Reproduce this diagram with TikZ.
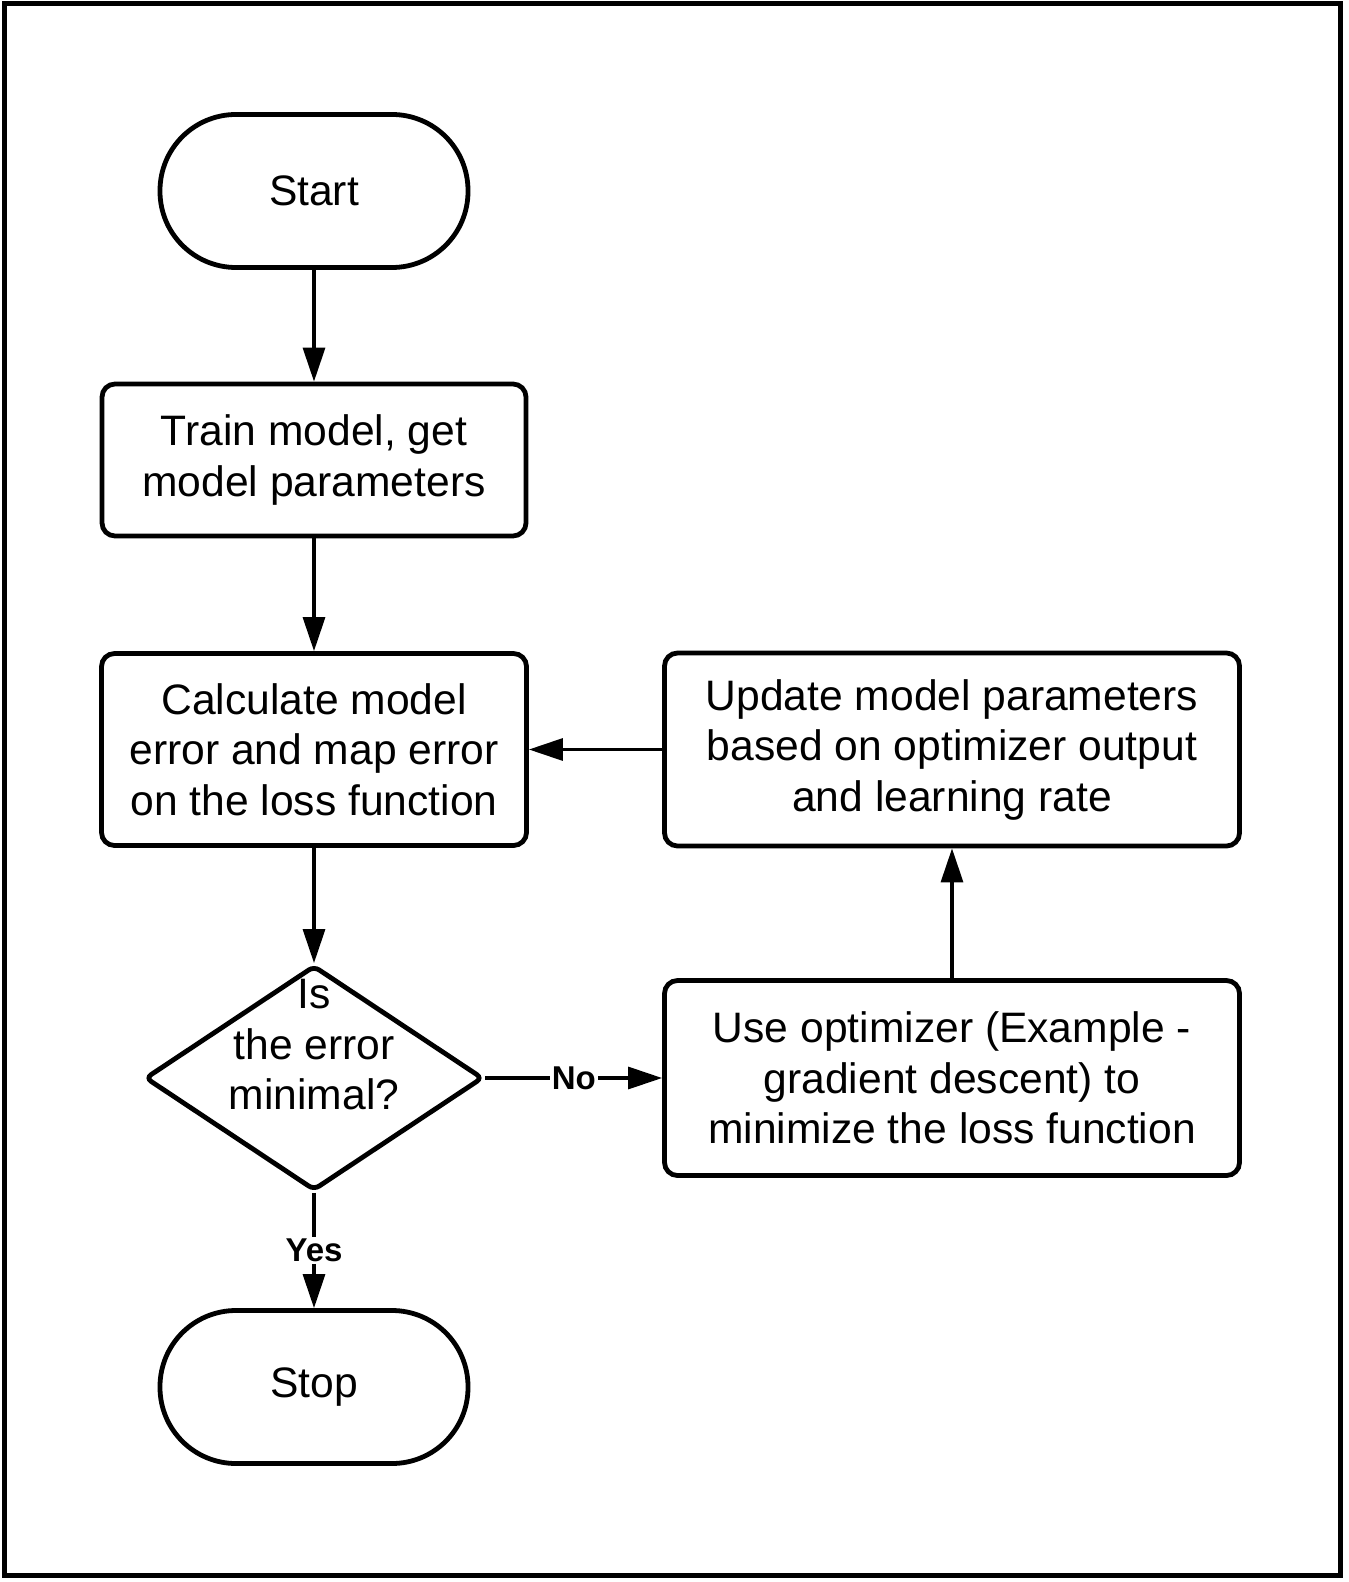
\documentclass[tikz,border=0pt]{standalone}
\usepackage{fontspec}
\setmainfont{Liberation Sans}
\usetikzlibrary{shapes.geometric,arrows.meta}
\begin{document}
\begin{tikzpicture}[x=0.5pt,y=-0.5pt,
  txt/.style={font=\fontsize{21.3pt}{25.25pt}\selectfont, align=center},
  term/.style={txt, draw, line width=2.4pt, rectangle, rounded corners=38pt, minimum width=154pt, minimum height=76.5pt, inner sep=0pt},
  proc/.style={txt, draw, line width=2.4pt, rectangle, rounded corners=6.5pt, inner sep=0pt},
  dec/.style={draw, line width=2.4pt, diamond, rounded corners=3pt, minimum width=169pt, minimum height=112.5pt, inner sep=0pt},
  conn/.style={line width=1.6pt, -{Triangle[length=17pt,width=11pt]}},
  lab/.style={font=\fontsize{16.5pt}{19pt}\selectfont\bfseries, fill=white, inner sep=1pt}
]
\useasboundingbox (0,0) rectangle (1348,1582);
\draw[line width=2.5pt] (4,4) rectangle (1340,1575);

\node[term] (start) at (314,191) {Start};
\node[proc, minimum width=212pt, minimum height=76pt] (train) at (314,460) {Train model, get\\model parameters};
\node[proc, minimum width=212.5pt, minimum height=96pt] (calc) at (314,749.5) {Calculate model\\error and map error\\on the loss function};
\node[dec] (dia) at (314,1078) {};
\node[txt, inner sep=0pt] (diatxt) at (314,1045) {Is\\the error\\minimal?};
\node[term] (stop) at (314,1387) {Stop};
\node[proc, minimum width=287.5pt, minimum height=96.5pt] (upd) at (952,749.5) {Update model parameters\\based on optimizer output\\and learning rate};
\node[proc, minimum width=287.5pt, minimum height=97.5pt] (opt) at (952,1078) {Use optimizer (Example -\\gradient descent) to\\minimize the loss function};

\draw[conn] (start) -- (train);
\draw[conn] (train) -- (calc);
\draw[conn] (calc) -- (dia);
\draw[conn] (dia) -- node[lab] {Yes} (stop);
\draw[conn] (dia) -- node[lab] {No} (opt);
\draw[conn] (opt) -- (upd);
\draw[conn] (upd) -- (calc);
\end{tikzpicture}
\end{document}
